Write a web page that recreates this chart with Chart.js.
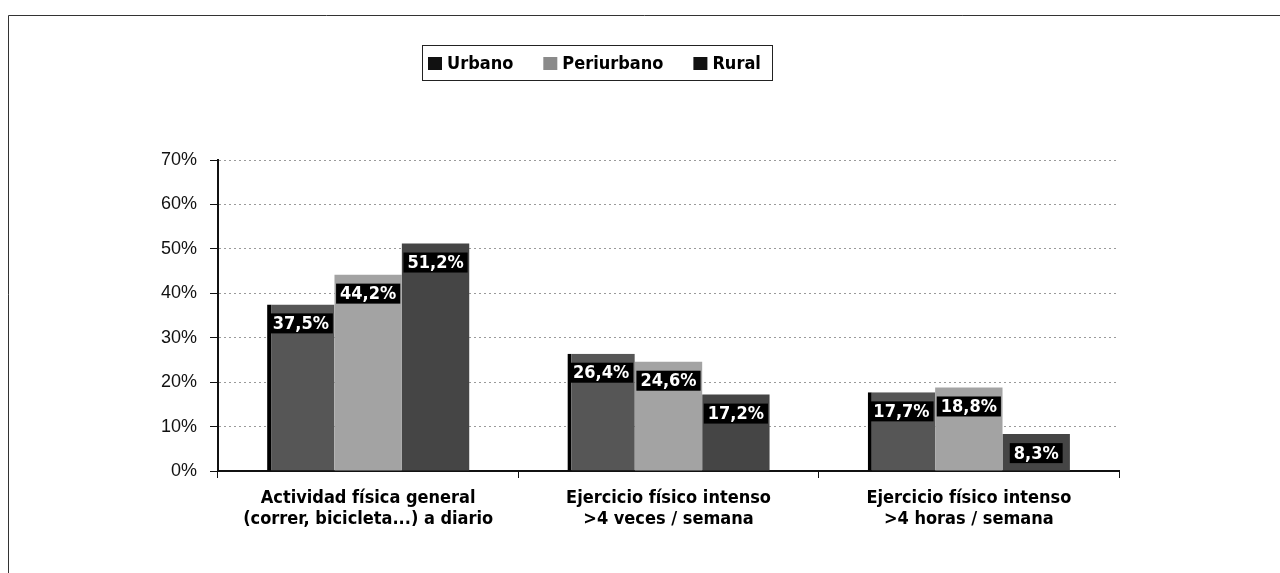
<!DOCTYPE html>
<html>
<head>
<meta charset="utf-8">
<script src="https://cdn.jsdelivr.net/npm/chart.js@4.4.1/dist/chart.umd.min.js"></script>
<style>
  html, body { margin: 0; padding: 0; background: #fff; }
  #wrap { width: 1280px; height: 573px; position: relative; }
</style>
</head>
<body>
<div id="wrap"><canvas id="myChart" width="1280" height="573"></canvas></div>
<script>
const categories = [
  ["Actividad física general", "(correr, bicicleta...) a diario"],
  ["Ejercicio físico intenso", ">4 veces / semana"],
  ["Ejercicio físico intenso", ">4 horas / semana"],
];
const seriesNames = ["Urbano", "Periurbano", "Rural"];
const urbano = [37.5, 26.4, 17.7];
const periurbano = [44.2, 24.6, 18.8];
const rural = [51.2, 17.2, 8.3];
const yTicks = [0, 10, 20, 30, 40, 50, 60, 70];

const narrow = "'Liberation Sans Narrow', 'DejaVu Sans Condensed', 'Roboto Condensed', sans-serif";
const barColors = ["#565656", "#a3a3a3", "#454545"];
const legendColors = ["#111111", "#8a8a8a", "#111111"];

// frame, legend box and value labels
const extras = {
  id: "extras",
  beforeDraw(chart) {
    const ctx = chart.ctx;
    ctx.save();
    ctx.strokeStyle = "#333";
    ctx.lineWidth = 1;
    ctx.beginPath();
    ctx.moveTo(8.5, 573);
    ctx.lineTo(8.5, 15.5);
    ctx.lineTo(1280, 15.5);
    ctx.stroke();
    ctx.restore();
  },
  afterDatasetsDraw(chart) {
    const ctx = chart.ctx;
    ctx.save();
    ctx.font = "bold 18px " + narrow;
    ctx.textAlign = "center";
    ctx.textBaseline = "middle";
    chart.data.datasets.forEach((ds, i) => {
      chart.getDatasetMeta(i).data.forEach((bar, j) => {
        const txt = ds.data[j].toFixed(1).replace(".", ",") + "%";
        const w = ctx.measureText(txt).width + 8;
        const cy = bar.y + 19;
        ctx.fillStyle = "#000";
        ctx.fillRect(bar.x - w / 2, cy - 10, w, 20);
        ctx.fillStyle = "#fff";
        ctx.fillText(txt, bar.x, cy + 1);
      });
    });
    ctx.restore();
  },
  afterDraw(chart) {
    const ctx = chart.ctx;
    ctx.save();
    ctx.strokeStyle = "#222";
    ctx.lineWidth = 1;
    ctx.strokeRect(422.5, 45.5, 350, 35);
    ctx.font = "bold 18px " + narrow;
    ctx.textBaseline = "middle";
    let x = 428;
    chart.data.datasets.forEach((ds, i) => {
      ctx.fillStyle = legendColors[i];
      ctx.fillRect(x, 57, 14, 13);
      x += 19;
      ctx.fillStyle = "#000";
      ctx.fillText(ds.label, x, 64);
      x += ctx.measureText(ds.label).width + 30;
    });
    ctx.restore();
  },
};

const ctx = document.getElementById("myChart").getContext("2d");
const myChart = new Chart(ctx, {
  type: "bar",
  data: {
    labels: categories,
    datasets: [urbano, periurbano, rural].map((vals, i) => ({
      label: seriesNames[i],
      data: vals,
      backgroundColor: barColors[i],
      borderColor: "#000",
      borderWidth: i === 0 ? { left: 4, top: 0, right: 0, bottom: 0 } : 0,
      borderSkipped: false,
      categoryPercentage: 0.673,
      barPercentage: 1,
    })),
  },
  options: {
    responsive: false,
    animation: false,
    layout: { padding: { left: 150, right: 161, top: 160, bottom: 0 } },
    plugins: {
      legend: { display: false },
      tooltip: { enabled: false },
    },
    scales: {
      y: {
        min: 0,
        max: 70,
        afterFit: (scale) => { scale.width = 68; },
        afterBuildTicks: (scale) => { scale.ticks = yTicks.map((v) => ({ value: v })); },
        ticks: {
          padding: 13,
          color: "#111",
          font: { size: 18, family: "'Liberation Sans', Arial, sans-serif" },
          callback: (v) => v + "%",
        },
        grid: {
          color: "#9a9a9a",
          tickColor: "#111",
          tickLength: 8,
          lineWidth: 1,
        },
        border: { color: "#111", width: 2, dash: [2, 3] },
      },
      x: {
        afterFit: (scale) => { scale.height = 102; },
        ticks: {
          padding: 10,
          color: "#000",
          font: { size: 18, weight: "bold", family: narrow, lineHeight: 1.15 },
        },
        grid: {
          drawOnChartArea: false,
          tickColor: "#111",
          tickLength: 7,
          offset: true,
        },
        border: { color: "#111", width: 2 },
      },
    },
  },
  plugins: [extras],
});
</script>
</body>
</html>
